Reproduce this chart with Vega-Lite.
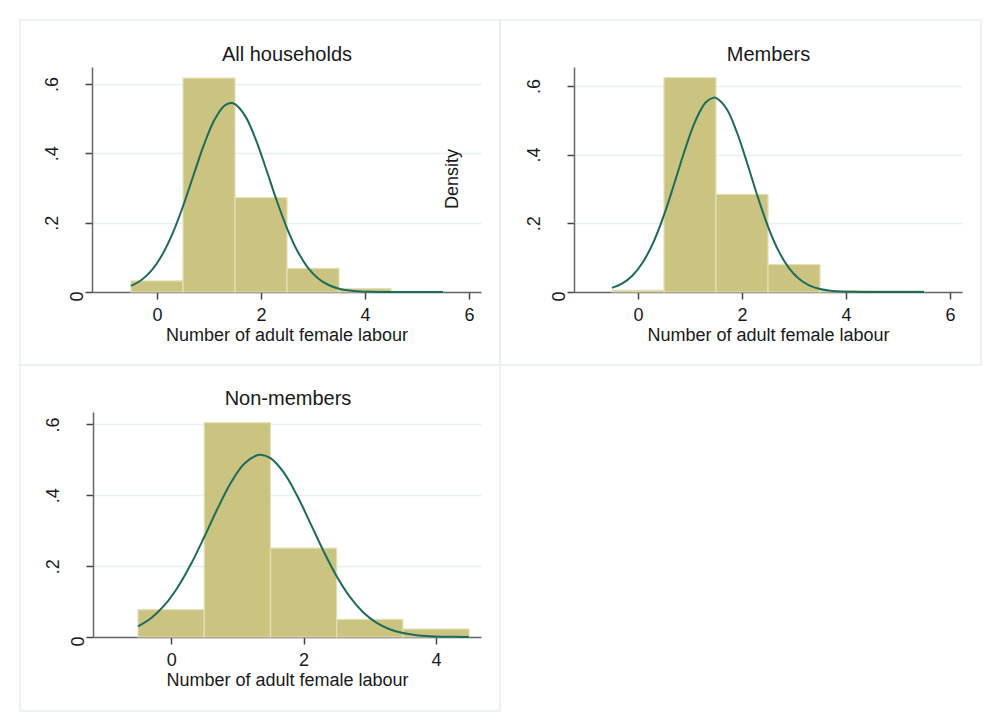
{
  "$schema": "https://vega.github.io/schema/vega-lite/v6.json",
  "background": "white",
  "padding": {"left": 19, "top": 19, "right": 5, "bottom": 5},
  "bounds": "flush",
  "columns": 2,
  "spacing": {"row": 0, "column": 0},
  "datasets": {
    "hist": [
      {"panel": "All households", "lo": -0.5, "hi": 0.5, "density": 0.032},
      {"panel": "All households", "lo": 0.5, "hi": 1.5, "density": 0.617},
      {"panel": "All households", "lo": 1.5, "hi": 2.5, "density": 0.272},
      {"panel": "All households", "lo": 2.5, "hi": 3.5, "density": 0.068},
      {"panel": "All households", "lo": 3.5, "hi": 4.5, "density": 0.0096},
      {"panel": "All households", "lo": 4.5, "hi": 5.5, "density": 0.002},
      {"panel": "Members", "lo": -0.5, "hi": 0.5, "density": 0.005},
      {"panel": "Members", "lo": 0.5, "hi": 1.5, "density": 0.624},
      {"panel": "Members", "lo": 1.5, "hi": 2.5, "density": 0.284},
      {"panel": "Members", "lo": 2.5, "hi": 3.5, "density": 0.080},
      {"panel": "Members", "lo": 3.5, "hi": 4.5, "density": 0.004},
      {"panel": "Members", "lo": 4.5, "hi": 5.5, "density": 0.003},
      {"panel": "Non-members", "lo": -0.5, "hi": 0.5, "density": 0.077},
      {"panel": "Non-members", "lo": 0.5, "hi": 1.5, "density": 0.605},
      {"panel": "Non-members", "lo": 1.5, "hi": 2.5, "density": 0.251},
      {"panel": "Non-members", "lo": 2.5, "hi": 3.5, "density": 0.050},
      {"panel": "Non-members", "lo": 3.5, "hi": 4.5, "density": 0.0226}
    ],
    "curve": [
      {"panel": "All households", "x": -0.5, "y": 0.01747},
      {"panel": "All households", "x": -0.3, "y": 0.03447},
      {"panel": "All households", "x": -0.1, "y": 0.06309},
      {"panel": "All households", "x": 0.1, "y": 0.10722},
      {"panel": "All households", "x": 0.3, "y": 0.16905},
      {"panel": "All households", "x": 0.5, "y": 0.24739},
      {"panel": "All households", "x": 0.7, "y": 0.33597},
      {"panel": "All households", "x": 0.9, "y": 0.42345},
      {"panel": "All households", "x": 1.1, "y": 0.49533},
      {"panel": "All households", "x": 1.3, "y": 0.53772},
      {"panel": "All households", "x": 1.42, "y": 0.545},
      {"panel": "All households", "x": 1.5, "y": 0.54176},
      {"panel": "All households", "x": 1.7, "y": 0.50655},
      {"panel": "All households", "x": 1.9, "y": 0.43955},
      {"panel": "All households", "x": 2.1, "y": 0.35399},
      {"panel": "All households", "x": 2.3, "y": 0.26458},
      {"panel": "All households", "x": 2.5, "y": 0.18352},
      {"panel": "All households", "x": 2.7, "y": 0.11814},
      {"panel": "All households", "x": 2.9, "y": 0.07058},
      {"panel": "All households", "x": 3.1, "y": 0.03912},
      {"panel": "All households", "x": 3.3, "y": 0.02014},
      {"panel": "All households", "x": 3.5, "y": 0.00962},
      {"panel": "All households", "x": 3.7, "y": 0.00426},
      {"panel": "All households", "x": 3.9, "y": 0.00175},
      {"panel": "All households", "x": 4.1, "y": 0.00067},
      {"panel": "All households", "x": 4.3, "y": 0.00024},
      {"panel": "All households", "x": 4.5, "y": 0.00008},
      {"panel": "All households", "x": 4.7, "y": 0.00002},
      {"panel": "All households", "x": 4.9, "y": 0.0},
      {"panel": "All households", "x": 5.1, "y": 0.0},
      {"panel": "All households", "x": 5.3, "y": 0.0},
      {"panel": "All households", "x": 5.5, "y": 0.0},
      {"panel": "Members", "x": -0.5, "y": 0.011868},
      {"panel": "Members", "x": -0.3, "y": 0.025085},
      {"panel": "Members", "x": -0.1, "y": 0.048923},
      {"panel": "Members", "x": 0.1, "y": 0.088036},
      {"panel": "Members", "x": 0.3, "y": 0.14617},
      {"panel": "Members", "x": 0.5, "y": 0.22392},
      {"panel": "Members", "x": 0.7, "y": 0.31651},
      {"panel": "Members", "x": 0.9, "y": 0.41279},
      {"panel": "Members", "x": 1.1, "y": 0.49673},
      {"panel": "Members", "x": 1.3, "y": 0.55151},
      {"panel": "Members", "x": 1.46, "y": 0.5659},
      {"panel": "Members", "x": 1.5, "y": 0.56499},
      {"panel": "Members", "x": 1.7, "y": 0.53404},
      {"panel": "Members", "x": 1.9, "y": 0.46576},
      {"panel": "Members", "x": 2.1, "y": 0.37479},
      {"panel": "Members", "x": 2.3, "y": 0.27827},
      {"panel": "Members", "x": 2.5, "y": 0.19063},
      {"panel": "Members", "x": 2.7, "y": 0.1205},
      {"panel": "Members", "x": 2.9, "y": 0.07027},
      {"panel": "Members", "x": 3.1, "y": 0.037816},
      {"panel": "Members", "x": 3.3, "y": 0.018775},
      {"panel": "Members", "x": 3.5, "y": 0.008601},
      {"panel": "Members", "x": 3.7, "y": 0.003635},
      {"panel": "Members", "x": 3.9, "y": 0.001418},
      {"panel": "Members", "x": 4.1, "y": 0.00051},
      {"panel": "Members", "x": 4.3, "y": 0.00017},
      {"panel": "Members", "x": 4.5, "y": 0.00005},
      {"panel": "Members", "x": 4.7, "y": 0.00001},
      {"panel": "Members", "x": 4.9, "y": 0.0},
      {"panel": "Members", "x": 5.1, "y": 0.0},
      {"panel": "Members", "x": 5.3, "y": 0.0},
      {"panel": "Members", "x": 5.5, "y": 0.0},
      {"panel": "Non-members", "x": -0.5, "y": 0.029983},
      {"panel": "Non-members", "x": -0.3, "y": 0.053617},
      {"panel": "Non-members", "x": -0.1, "y": 0.089716},
      {"panel": "Non-members", "x": 0.1, "y": 0.14048},
      {"panel": "Non-members", "x": 0.3, "y": 0.20582},
      {"panel": "Non-members", "x": 0.5, "y": 0.28217},
      {"panel": "Non-members", "x": 0.7, "y": 0.36199},
      {"panel": "Non-members", "x": 0.9, "y": 0.43453},
      {"panel": "Non-members", "x": 1.1, "y": 0.4881},
      {"panel": "Non-members", "x": 1.3, "y": 0.51303},
      {"panel": "Non-members", "x": 1.35, "y": 0.5141},
      {"panel": "Non-members", "x": 1.5, "y": 0.50458},
      {"panel": "Non-members", "x": 1.7, "y": 0.46438},
      {"panel": "Non-members", "x": 1.9, "y": 0.39991},
      {"panel": "Non-members", "x": 2.1, "y": 0.32226},
      {"panel": "Non-members", "x": 2.3, "y": 0.243},
      {"panel": "Non-members", "x": 2.5, "y": 0.17145},
      {"panel": "Non-members", "x": 2.7, "y": 0.1132},
      {"panel": "Non-members", "x": 2.9, "y": 0.069935},
      {"panel": "Non-members", "x": 3.1, "y": 0.040429},
      {"panel": "Non-members", "x": 3.3, "y": 0.02187},
      {"panel": "Non-members", "x": 3.5, "y": 0.011071},
      {"panel": "Non-members", "x": 3.7, "y": 0.005243},
      {"panel": "Non-members", "x": 3.9, "y": 0.002322},
      {"panel": "Non-members", "x": 4.1, "y": 0.000963},
      {"panel": "Non-members", "x": 4.3, "y": 0.000374},
      {"panel": "Non-members", "x": 4.5, "y": 0.000136}
    ]
  },
  "concat": [
    {
      "width": 480,
      "height": 345,
      "title": {"text": "All households", "offset": -45, "dx": 27},
      "layer": [
        {
          "data": {"name": "hist"},
          "transform": [{"filter": "datum.panel == 'All households'"}],
          "mark": {"type": "rect", "fill": "#cbc480", "stroke": "#e3e0b6", "strokeWidth": 1.2},
          "encoding": {
            "x": {"field": "lo", "type": "quantitative", "scale": {"domain": [-1.25, 6.23], "range": [72, 461], "nice": false, "zero": false},
                  "axis": {"values": [0, 2, 4, 6], "format": "d", "title": "Number of adult female labour", "offset": -73}},
            "x2": {"field": "hi"},
            "y": {"field": "density", "type": "quantitative", "scale": {"domain": [0, 0.649], "range": [272, 47], "nice": false},
                  "axis": {"values": [0, 0.2, 0.4, 0.6], "title": null, "offset": -72}},
            "y2": {"datum": 0}
          }
        },
        {
          "data": {"name": "curve"},
          "transform": [{"filter": "datum.panel == 'All households'"}],
          "mark": {"type": "line", "color": "#1c6b5d", "strokeWidth": 2, "interpolate": "catmull-rom"},
          "encoding": {
            "x": {"field": "x", "type": "quantitative"},
            "y": {"field": "y", "type": "quantitative"}
          }
        },
        {
          "data": {"values": [{}]},
          "mark": {"type": "text", "text": "Density", "angle": 270, "fontSize": 18, "align": "center", "baseline": "middle", "color": "#1a1a1a"},
          "encoding": {
            "x": {"datum": 5.69, "type": "quantitative"},
            "y": {"datum": 0.326, "type": "quantitative"}
          }
        }
      ]
    },
    {
      "width": 481,
      "height": 345,
      "title": {"text": "Members", "offset": -45, "dx": 28},
      "layer": [
        {
          "data": {"name": "hist"},
          "transform": [{"filter": "datum.panel == 'Members'"}],
          "mark": {"type": "rect", "fill": "#cbc480", "stroke": "#e3e0b6", "strokeWidth": 1.2},
          "encoding": {
            "x": {"field": "lo", "type": "quantitative", "scale": {"domain": [-1.23, 6.23], "range": [74, 462], "nice": false, "zero": false},
                  "axis": {"values": [0, 2, 4, 6], "format": "d", "title": "Number of adult female labour", "offset": -73}},
            "x2": {"field": "hi"},
            "y": {"field": "density", "type": "quantitative", "scale": {"domain": [0, 0.655], "range": [272, 47], "nice": false},
                  "axis": {"values": [0, 0.2, 0.4, 0.6], "title": null, "offset": -74}},
            "y2": {"datum": 0}
          }
        },
        {
          "data": {"name": "curve"},
          "transform": [{"filter": "datum.panel == 'Members'"}],
          "mark": {"type": "line", "color": "#1c6b5d", "strokeWidth": 2, "interpolate": "catmull-rom"},
          "encoding": {
            "x": {"field": "x", "type": "quantitative"},
            "y": {"field": "y", "type": "quantitative"}
          }
        }
      ]
    },
    {
      "width": 480,
      "height": 346,
      "title": {"text": "Non-members", "offset": -44, "dx": 28},
      "layer": [
        {
          "data": {"name": "hist"},
          "transform": [{"filter": "datum.panel == 'Non-members'"}],
          "mark": {"type": "rect", "fill": "#cbc480", "stroke": "#e3e0b6", "strokeWidth": 1.2},
          "encoding": {
            "x": {"field": "lo", "type": "quantitative", "scale": {"domain": [-1.18, 4.68], "range": [73, 461], "nice": false, "zero": false},
                  "axis": {"values": [0, 2, 4], "format": "d", "title": "Number of adult female labour", "offset": -74}},
            "x2": {"field": "hi"},
            "y": {"field": "density", "type": "quantitative", "scale": {"domain": [0, 0.635], "range": [272, 47], "nice": false},
                  "axis": {"values": [0, 0.2, 0.4, 0.6], "title": null, "offset": -73}},
            "y2": {"datum": 0}
          }
        },
        {
          "data": {"name": "curve"},
          "transform": [{"filter": "datum.panel == 'Non-members'"}],
          "mark": {"type": "line", "color": "#1c6b5d", "strokeWidth": 2, "interpolate": "catmull-rom"},
          "encoding": {
            "x": {"field": "x", "type": "quantitative"},
            "y": {"field": "y", "type": "quantitative"}
          }
        }
      ]
    }
  ],
  "config": {
    "font": "Liberation Sans",
    "view": {"stroke": "#e8eff1", "strokeWidth": 1.5},
    "title": {"fontSize": 20, "fontWeight": "normal", "color": "#1a1a1a", "font": "Liberation Sans"},
    "text": {"font": "Liberation Sans"},
    "axis": {
      "labelFont": "Liberation Sans",
      "titleFont": "Liberation Sans",
      "labelFontSize": 18,
      "titleFontSize": 18,
      "titleFontWeight": "normal",
      "labelColor": "#1a1a1a",
      "titleColor": "#1a1a1a",
      "domainColor": "#666666",
      "domainWidth": 1.5,
      "tickColor": "#444444",
      "tickWidth": 1.5,
      "tickSize": 7,
      "labelFlush": false,
      "labelOverlap": false
    },
    "axisX": {"grid": false, "labelPadding": 7, "titlePadding": 2},
    "axisY": {
      "grid": true,
      "gridColor": "#e6eff2",
      "gridWidth": 1.3,
      "labelAngle": 270,
      "labelPadding": {"condition": {"test": "datum.value == 0", "value": -1}, "value": 24},
      "labelOffset": {"condition": {"test": "datum.value == 0", "value": 4}, "value": 0},
      "labelExpr": "datum.value == 0 ? '0' : replace(format(datum.value, '.1f'), '0.', '.')"
    }
  }
}
